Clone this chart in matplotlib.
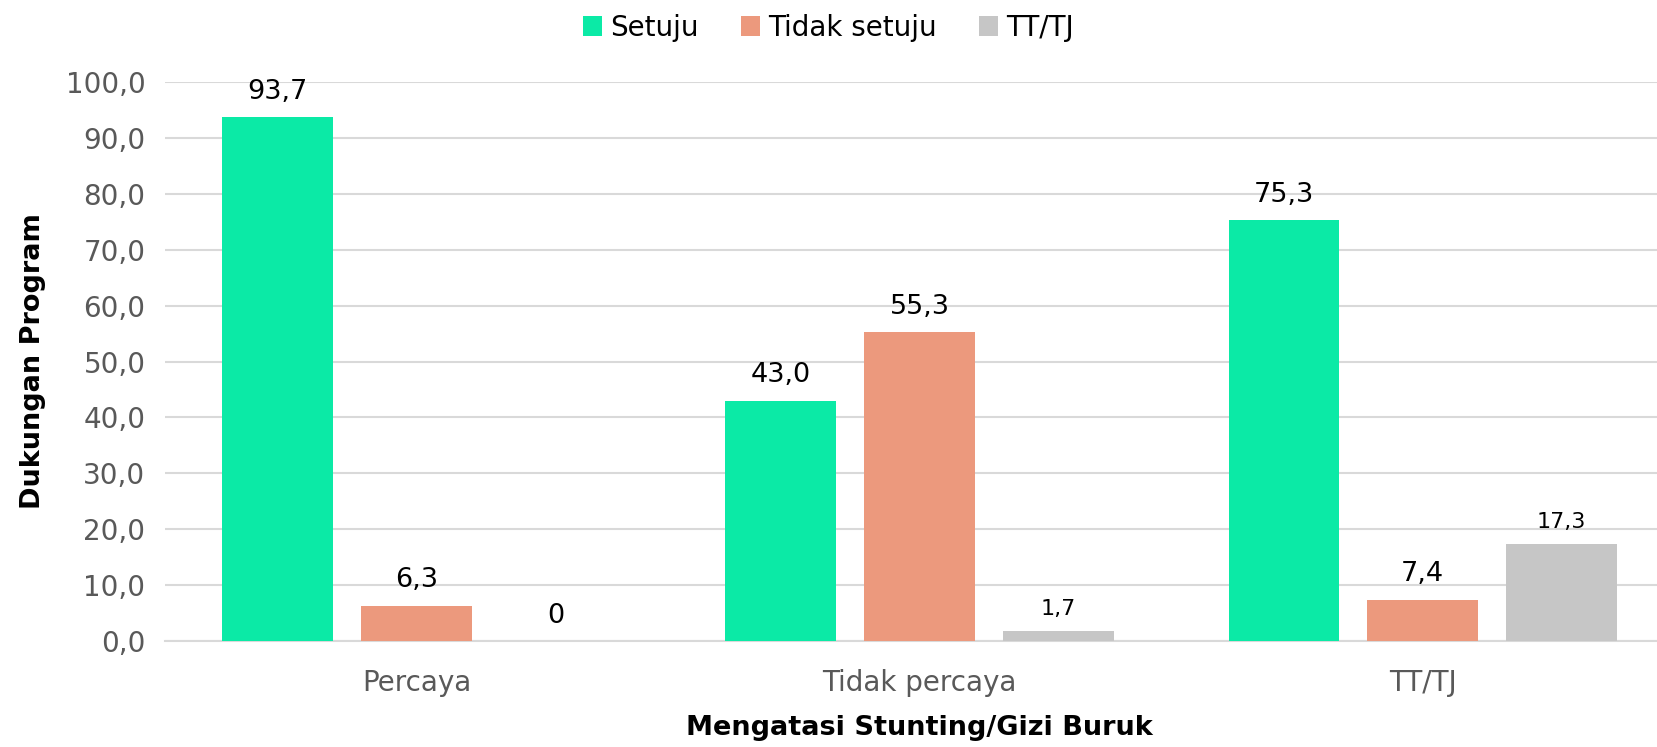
import matplotlib.pyplot as plt
import numpy as np

categories = ['Percaya', 'Tidak percaya', 'TT/TJ']
series = ['Setuju', 'Tidak setuju', 'TT/TJ']
setuju = [93.7, 43.0, 75.3]
tidak_setuju = [6.3, 55.3, 7.4]
tt_tj = [0, 1.7, 17.3]
labels_setuju = ['93,7', '43,0', '75,3']
labels_tidak = ['6,3', '55,3', '7,4']
labels_tt = ['0', '1,7', '17,3']

colors = ['#0BEAA6', '#EC997D', '#C6C6C6']

plt.rcParams['font.family'] = ['DejaVu Sans']

fig = plt.figure(figsize=(16.57, 7.47), dpi=100)
ax = fig.add_axes([0.0995, 0.142, 0.911, 0.748])

x = np.arange(len(categories))
w = 0.22
step = 0.276
vals = [setuju, tidak_setuju, tt_tj]
labs = [labels_setuju, labels_tidak, labels_tt]
for i in range(3):
    pos = x + (i - 1) * step
    ax.bar(pos, vals[i], width=w, color=colors[i], label=series[i], zorder=3)
    for j in range(3):
        fs = 16 if (i == 2 and j > 0) else 19.5
        ax.text(pos[j], vals[i][j] + 2.2, labs[i][j], ha='center', va='bottom',
                fontsize=fs, color='black')

ax.set_xlim(-0.5, 2.5)
ax.set_ylim(0, 100)
ax.set_yticks(np.arange(0, 101, 10))
ax.set_yticklabels([f'{v:.1f}'.replace('.', ',') for v in np.arange(0, 101, 10)])
ax.set_xticks(x)
ax.set_xticklabels(categories)
ax.tick_params(axis='both', length=0, labelsize=20, colors='#595959')
ax.tick_params(axis='y', pad=14)
ax.tick_params(axis='x', pad=20)
ax.yaxis.grid(True, color='#D9D9D9', linewidth=1.5, zorder=0)
for s in ['top', 'right', 'left']:
    ax.spines[s].set_visible(False)
ax.spines['bottom'].set_color('#D9D9D9')
ax.spines['bottom'].set_linewidth(1.5)

ax.set_ylabel('Dukungan Program', fontsize=19.5, fontweight='bold', color='black', labelpad=14)
ax.set_xlabel('Mengatasi Stunting/Gizi Buruk', fontsize=19.5, fontweight='bold', color='black', labelpad=13)

fig.legend(loc='upper center', bbox_to_anchor=(0.5, 1.015), ncol=3, frameon=False,
           fontsize=20, handlelength=0.7, handleheight=0.7, handletextpad=0.3,
           columnspacing=1.5)

fig.savefig('out.png', dpi=100)
